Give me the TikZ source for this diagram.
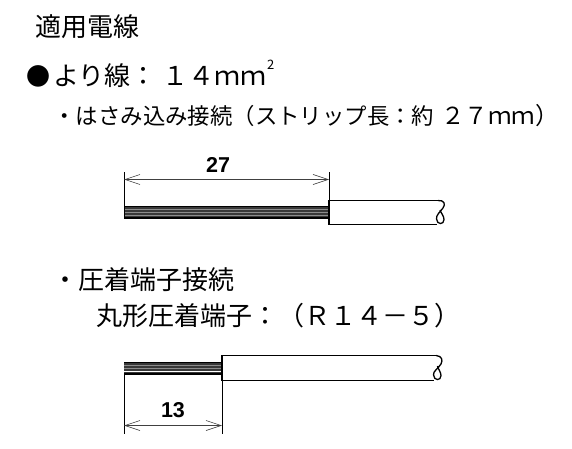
\documentclass[tikz,border=0pt]{standalone}
\usepackage{fontspec}
\setmainfont{Noto Sans CJK JP}
\newfontfamily\dimfont{Liberation Sans}
\usetikzlibrary{arrows.meta}
\tikzset{
  txt/.style={anchor=west,inner sep=0pt,outer sep=0pt,text=black},
  fsbig/.style={font=\fontsize{26}{26}\selectfont},
  fsmid/.style={font=\fontsize{22.4}{22.4}\selectfont},
  dimline/.style={draw=black!75,line width=0.8pt,{Straight Barb[length=15pt,width=10pt,line width=0.6pt]}-{Straight Barb[length=15pt,width=10pt,line width=0.6pt]}},
  ext/.style={draw=black,line width=0.7pt},
  sheath/.style={draw=black,line width=1.4pt},
  brk/.style={draw=black,line width=1.3pt},
  strand/.style={draw=black!45,line width=0.8pt},
  dimnum/.style={inner sep=0pt,font=\dimfont\bfseries\fontsize{21.5}{21.5}\selectfont},
}
\begin{document}
\begin{tikzpicture}[x=1pt,y=-1pt]
\useasboundingbox (0,0) rectangle (572,449);
\fill[white] (0,0) rectangle (572,449);
\node[txt,fsbig] (t1) at (35,27) {適用電線};
\node[txt,font=\fontsize{24}{24}\selectfont] (t2a) at (26,76) {●};
\node[txt,fsbig] (t2) at (53,76) {より線};
\node[txt,fsbig] (t2d) at (130,76) {：};
\node[txt,fsbig] (t2b) at (162,76) {１４ｍｍ};
\node[txt,font=\fontsize{13}{13}\selectfont] (t2c) at (267,65) {2};
\node[txt,fsmid] (t3) at (53.5,116) {・はさみ込み接続（ストリップ長：約};
\node[txt,font=\fontsize{23.5}{23.5}\selectfont] (t3b) at (441,116) {２７ｍｍ）};
\node[txt,fsbig] (t4) at (52,280) {・圧着端子接続};
\node[txt,fsbig] (t5) at (96,316) {丸形圧着端子：（Ｒ１４－５）};

% upper wire
\fill[black!78] (124,206) rectangle (329,219);
\foreach \yy in {209.5,212.5,215.5}{\draw[strand] (124,\yy)--(329,\yy);}
\draw[black,line width=1.8pt] (124,218.2)--(329,218.2);
\draw[black,line width=0.9pt] (124,206.4)--(329,206.4);
\coordinate (ua) at (124,179.5);
\coordinate (ub) at (329,179.5);
\draw[ext] (124,172)--(124,219);
\draw[ext] (329,172)--(329,201);
\draw[dimline] (ua)--(ub);
\node[dimnum] (n27) at (218,165) {27};
\draw[sheath] (438,200.5)--(329,200.5)--(329,224.5)--(437,224.5);
\draw[brk] (438,200.5) .. controls (444,200) and (446,204) .. (443,208) .. controls (440,212) and (436,215) .. (436.5,219) .. controls (437,225) and (444,225) .. (444,219.5) .. controls (444,216) and (441,213) .. (440,210);

% lower wire
\fill[black!78] (124,362) rectangle (222,375);
\foreach \yy in {365.5,368.5}{\draw[strand] (124,\yy)--(222,\yy);}
\draw[white,line width=0.9pt] (124,371.5)--(222,371.5);
\draw[black,line width=1.8pt] (124,374.2)--(222,374.2);
\draw[black,line width=0.9pt] (124,362.4)--(222,362.4);
\coordinate (la) at (124,425.5);
\coordinate (lb) at (222,425.5);
\draw[ext] (124,375)--(124,434);
\draw[ext] (222,381)--(222,434);
\draw[dimline] (la)--(lb);
\node[dimnum] (n13) at (173,410) {13};
\draw[sheath] (436,355.5)--(222,355.5)--(222,380.5)--(434,380.5);
\draw[brk] (436,355.5) .. controls (442,356) and (443,360) .. (441,364) .. controls (438,369) and (433,371) .. (433.5,375) .. controls (434,381) and (441,381) .. (441,375.5) .. controls (441,372) and (438,369) .. (437.5,366);
\end{tikzpicture}
\end{document}
